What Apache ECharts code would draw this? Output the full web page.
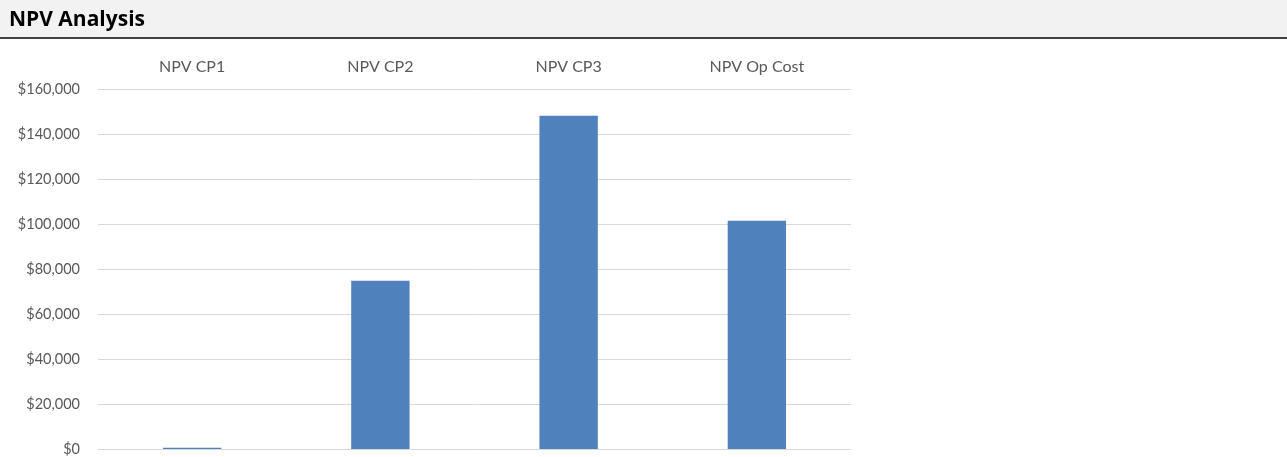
<!DOCTYPE html>
<html>
<head>
<meta charset="utf-8">
<script src="https://cdn.jsdelivr.net/npm/echarts@6/dist/echarts.min.js"></script>
<style>
  html, body { margin: 0; padding: 0; background: #ffffff; }
  #chart { width: 1287px; height: 457px; }
</style>
</head>
<body>
<div id="chart"></div>
<script>
// NPV per cost option
var categories = ['NPV CP1', 'NPV CP2', 'NPV CP3', 'NPV Op Cost'];
var npvValues = [600, 74800, 148100, 101500];
var yTicks = { min: 0, max: 160000, interval: 20000 };

var chart = echarts.init(document.getElementById('chart'), null, { renderer: 'canvas' });

function fmtMoney(v) {
  return '$' + Math.round(v).toString().replace(/\B(?=(\d{3})+(?!\d))/g, ',');
}

chart.setOption({
  backgroundColor: '#ffffff',
  animation: false,
  graphic: [
    { type: 'rect', shape: { x: 0, y: 0, width: 1287, height: 37 }, style: { fill: '#f2f2f2' }, z: -1 },
    { type: 'line', shape: { x1: 0, y1: 38, x2: 1287, y2: 38 }, style: { stroke: '#000000', lineWidth: 1.5 } },
    { type: 'text', left: 9, top: 10, style: { text: 'NPV Analysis', font: 'bold 21px "Open Sans", Lato, sans-serif', fill: '#000000' } }
  ],
  grid: { left: 98, right: 436, top: 89, bottom: 8, containLabel: false },
  xAxis: {
    type: 'category',
    position: 'top',
    data: categories,
    axisLine: { show: false },
    axisTick: { show: false },
    axisLabel: { color: '#595959', fontSize: 16, fontFamily: 'Lato, "Open Sans", sans-serif', margin: 14 }
  },
  yAxis: {
    type: 'value',
    min: yTicks.min,
    max: yTicks.max,
    interval: yTicks.interval,
    axisLine: { show: false },
    axisTick: { show: false },
    splitLine: { lineStyle: { color: '#d9d9d9', width: 1 } },
    axisLabel: { color: '#595959', fontSize: 14.5, fontFamily: 'Lato, "Open Sans", sans-serif', margin: 18, formatter: fmtMoney }
  },
  series: [{
    type: 'bar',
    data: npvValues,
    barWidth: '31%',
    itemStyle: { color: '#4f81bd' }
  }]
});
</script>
</body>
</html>
